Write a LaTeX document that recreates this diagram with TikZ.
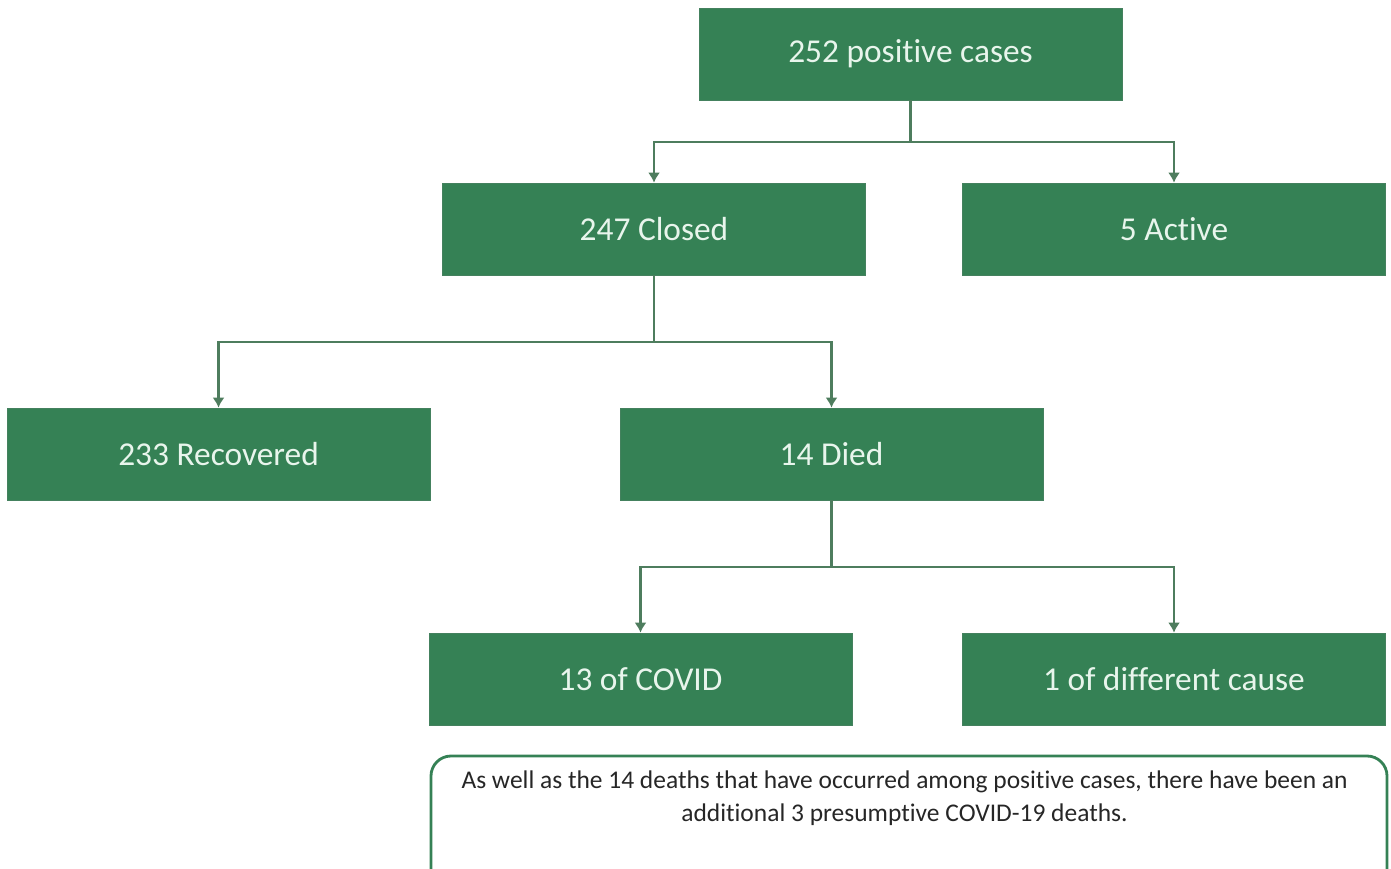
\documentclass[tikz,border=0pt]{standalone}
\usepackage{fontspec}
\setmainfont{Carlito}[Ligatures=NoCommon]
\usepackage{xcolor}
\usepackage{tikz}
\usetikzlibrary{arrows.meta}

\definecolor{boxgreen}{RGB}{53,129,85}
\definecolor{linegreen}{RGB}{78,125,94}
\definecolor{boxtext}{RGB}{232,245,236}

\begin{document}
\begin{tikzpicture}[x=0.02cm,y=-0.02cm,
		casebox/.style={fill=boxgreen,draw=boxgreen!80!gray,line width=0.4pt,minimum width=8.46cm,minimum height=1.84cm,text=boxtext,font=\fontsize{19}{22}\selectfont,inner sep=0pt},
		stem/.style={draw=linegreen,line width=1.5pt},
		link/.style={stem,->,>={Latex[length=0.2cm,width=0.24cm]}}]
	\useasboundingbox (0,0) rectangle (1391,868);
	\clip (0,0) rectangle (1391,868);
	
	% level 0 and 1
	\node [casebox] (pos) at (910.5,54) {252 positive cases};
	\node [casebox] (closed) at (654,229) {247 Closed};
	\node [casebox] (active) at (1174,229) {5 Active};
	
	% level 2
	\node [casebox] (recov) at (218.5,454) {233 Recovered};
	\node [casebox] (died) at (831.5,454) {14 Died};
	
	% level 3
	\node [casebox] (covid) at (640.5,679) {13 of COVID};
	\node [casebox] (other) at (1174,679) {1 of different cause};
	
	% connectors
	\coordinate (split1) at (910.5,142);
	\coordinate (split2) at (654,342);
	\coordinate (split3) at (831.5,567);
	\path [stem] (pos) -- (split1);
	\draw [link] (split1) -| (closed);
	\draw [link] (split1) -| (active);
	\path [stem] (closed) -- (split2);
	\draw [link] (split2) -| (recov);
	\draw [link] (split2) -| (died);
	\path [stem] (died) -- (split3);
	\draw [link] (split3) -| (covid);
	\draw [link] (split3) -| (other);
	
	% note at the bottom
	\draw [boxgreen,line width=1.6pt,rounded corners=0.4cm] (431,756) rectangle (1387,920);
	\node [align=center,font=\fontsize{14.5}{18.8}\selectfont,text=black!85] (note) at (904.5,798.5) {As well as the 14 deaths that have occurred among positive cases, there have been an\\additional 3 presumptive COVID-19 deaths.};
\end{tikzpicture}
\end{document}
